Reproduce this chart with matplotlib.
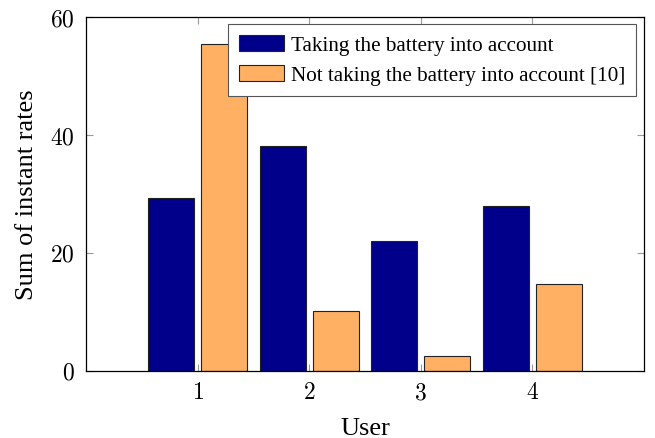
import numpy as np
import matplotlib.pyplot as plt
from matplotlib.ticker import FuncFormatter

users = [1, 2, 3, 4]
with_battery = [29.3, 38.2, 22.0, 28.0]
without_battery = [55.5, 10.1, 2.6, 14.7]
labels = ["Taking the battery into account",
          "Not taking the battery into account [10]"]

plt.rcParams.update({
    "font.family": "Liberation Serif",
    "mathtext.fontset": "cm",
    "font.size": 15,
})

fig = plt.figure(figsize=(6.55, 4.39), dpi=100)
ax = fig.add_axes([86 / 655, 1 - 372 / 439, 558 / 655, 354 / 439])

x = np.array(users, dtype=float)
w = 0.41
ax.bar(x - 0.237, with_battery, w, color="#00008b", edgecolor="#222222",
       linewidth=0.8, label=labels[0])
ax.bar(x + 0.237, without_battery, w, color="#ffb062", edgecolor="#222222",
       linewidth=0.8, label=labels[1])

ax.set_xlim(0, 5)
ax.set_ylim(0, 60)
ax.set_xticks(users)
ax.set_yticks([0, 20, 40, 60])
math_fmt = FuncFormatter(lambda v, p: r"$%d$" % v)
ax.xaxis.set_major_formatter(math_fmt)
ax.yaxis.set_major_formatter(math_fmt)
ax.tick_params(direction="in", length=5, width=0.8, color="#999999",
               top=True, right=True, labelsize=17, pad=8)
for s in ax.spines.values():
    s.set_linewidth(0.9)
ax.set_xlabel("User", fontsize=19, labelpad=10)
ax.set_ylabel("Sum of instant rates", fontsize=19, labelpad=9)

leg = ax.legend(loc="upper right", bbox_to_anchor=(0.985, 0.98), fontsize=15.2,
                fancybox=False, framealpha=1, edgecolor="#555555",
                handlelength=2.15, handleheight=0.8, handletextpad=0.3,
                labelspacing=0.45, borderpad=0.5, borderaxespad=0)
leg.get_frame().set_linewidth(0.8)

fig.savefig("out.png", dpi=100)
